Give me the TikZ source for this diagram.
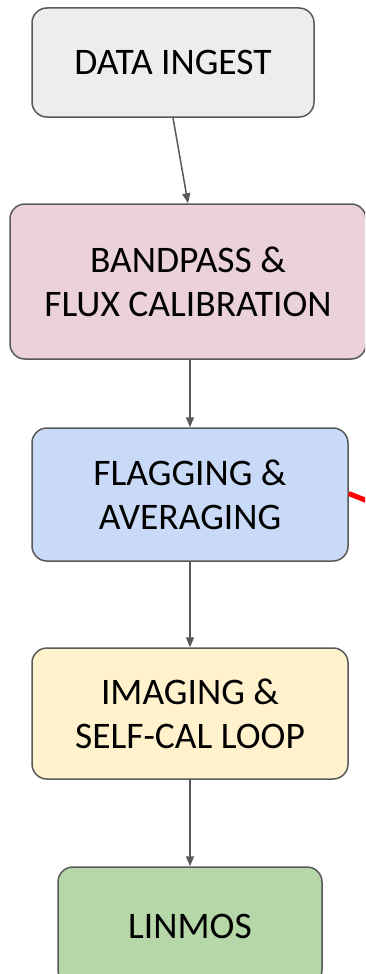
\documentclass[tikz,border=0pt]{standalone}
\usepackage{fontspec}
\setmainfont{Carlito}
\usetikzlibrary{arrows.meta}
\definecolor{edgegrey}{HTML}{595959}
\definecolor{ingestfill}{HTML}{EDEDED}
\definecolor{bandfill}{HTML}{EAD1DC}
\definecolor{flagfill}{HTML}{C9DAF8}
\definecolor{imgfill}{HTML}{FFF2CC}
\definecolor{linfill}{HTML}{B6D7A8}
\tikzset{
  stagebox/.style={draw=edgegrey, line width=1.5pt, rounded corners=15pt,
    align=center, inner sep=0pt, font=\fontsize{37.5}{44}\selectfont, text=black},
  flowarrow/.style={draw=edgegrey, line width=1.5pt,
    -{Triangle[length=10pt,width=8pt]}},
}
\begin{document}
\begin{tikzpicture}[x=1pt,y=-1pt]
\useasboundingbox (0,0) rectangle (365,974);
\clip (0,0) rectangle (365,974);

\node[stagebox, fill=ingestfill, minimum width=282pt, minimum height=109pt]
  (ingest) at (173,62.5) {DATA INGEST};
\node[stagebox, fill=bandfill, minimum width=356pt, minimum height=155pt]
  (band) at (188,281.5) {BANDPASS \&\\FLUX CALIBRATION};
\node[stagebox, fill=flagfill, minimum width=316pt, minimum height=133pt]
  (flag) at (190,494.5) {FLAGGING \&\\AVERAGING};
\node[stagebox, fill=imgfill, minimum width=316pt, minimum height=131pt]
  (img) at (190,713.5) {IMAGING \&\\SELF-CAL LOOP};
\node[stagebox, fill=linfill, minimum width=264pt, minimum height=118pt]
  (lin) at (190,926) {LINMOS};

\draw[flowarrow] (ingest.south) -- (band.north);
\draw[flowarrow] (flag.north |- band.south) -- (flag.north);
\draw[flowarrow] (flag.south) -- (img.north);
\draw[flowarrow] (img.south) -- (lin.north);

% outgoing link leaving the flagging stage to the right
\coordinate (flagout) at (385,508);
\draw[red, line width=5pt] ([yshift=1pt]flag.east) -- (flagout);
\end{tikzpicture}
\end{document}
